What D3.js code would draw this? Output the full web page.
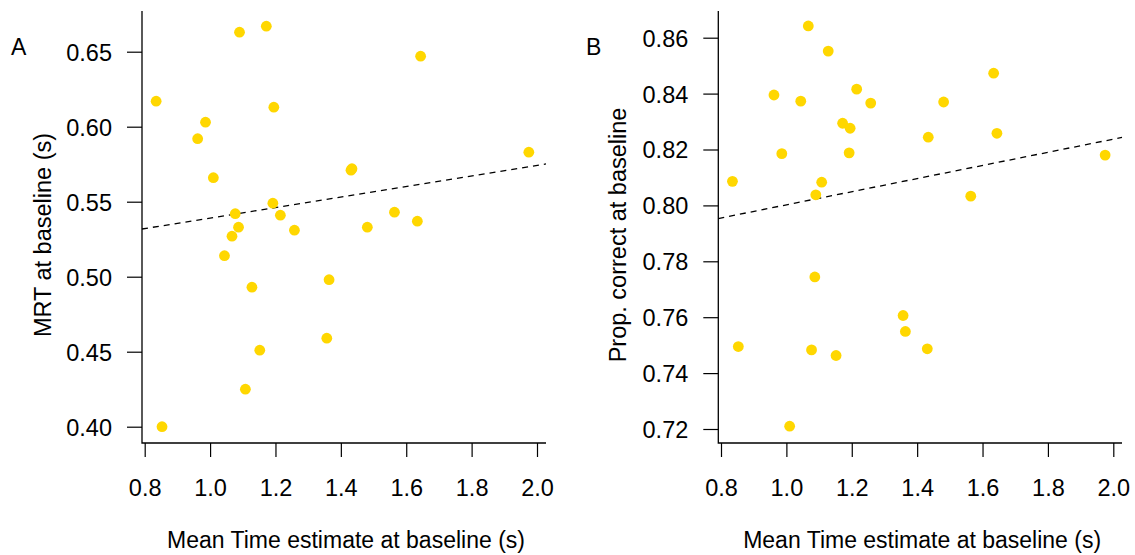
<!DOCTYPE html>
<html>
<head>
<meta charset="utf-8">
<script src="https://cdn.jsdelivr.net/npm/d3@7"></script>
<style>
  body { margin: 0; background: #fff; }
  svg { display: block; font-family: "Liberation Sans", Arial, Helvetica, sans-serif; }
  .tick text { font-size: 23.5px; fill: #000; }
  .tick line { stroke: #000; stroke-width: 1.2; }
</style>
</head>
<body>
<svg width="1135" height="555"></svg>
<script>
// mean time estimate at baseline (s), one per participant
const timeEstimate = [0.835, 0.853, 0.962, 0.986, 1.010, 1.044, 1.067, 1.077, 1.087, 1.090,
  1.108, 1.128, 1.152, 1.172, 1.192, 1.195, 1.215, 1.258, 1.357, 1.364,
  1.431, 1.434, 1.481, 1.564, 1.634, 1.644, 1.975];

// panel A: MRT at baseline (s)
const mrt = [0.617, 0.400, 0.592, 0.603, 0.566, 0.514, 0.527, 0.542, 0.533, 0.663,
  0.425, 0.493, 0.451, 0.667, 0.549, 0.613, 0.541, 0.531, 0.459, 0.498,
  0.571, 0.572, 0.533, 0.543, 0.537, 0.647, 0.583];

// panel B: proportion correct at baseline
const propCorrect = [0.8086, 0.7495, 0.8395, 0.8185, 0.7210, 0.8373, 0.8642, 0.7483, 0.7744, 0.8038,
  0.8083, 0.8552, 0.7463, 0.8294, 0.8188, 0.8276, 0.8416, 0.8366, 0.7606, 0.7549,
  0.7487, 0.8244, 0.8370, 0.8033, 0.8473, 0.8258, 0.8180];

const xTicks = [0.8, 1.0, 1.2, 1.4, 1.6, 1.8, 2.0];
const mrtTicks = [0.40, 0.45, 0.50, 0.55, 0.60, 0.65];
const propTicks = [0.72, 0.74, 0.76, 0.78, 0.80, 0.82, 0.84, 0.86];

// fitted lines [intercept, slope]
const fitMrt = [0.504, 0.0351];
const fitProp = [0.7767, 0.0235];

const svg = d3.select('svg');

const panels = [
  { label: 'A', ys: mrt, ticks: mrtTicks, fit: fitMrt,
    yTitle: 'MRT at baseline (s)',
    box: { left: 142, right: 546, top: 11, bottom: 443 },
    xRange: [144.7, 537], yDomain: [0.40, 0.65], yRange: [426.7, 51.7],
    labelX: 11, titleX: 51 },
  { label: 'B', ys: propCorrect, ticks: propTicks, fit: fitProp,
    yTitle: 'Prop. correct at baseline',
    box: { left: 718.3, right: 1122, top: 11, bottom: 443 },
    xRange: [721, 1113.3], yDomain: [0.72, 0.86], yRange: [429, 37.7],
    labelX: 586, titleX: 626 }
];

panels.forEach(p => {
  const x = d3.scaleLinear().domain([0.8, 2.0]).range(p.xRange);
  const y = d3.scaleLinear().domain(p.yDomain).range(p.yRange);
  const g = svg.append('g');

  // L-shaped box
  g.append('path')
    .attr('d', `M${p.box.left},${p.box.top}V${p.box.bottom}H${p.box.right}`)
    .attr('fill', 'none')
    .attr('stroke', '#000')
    .attr('stroke-width', 1.3);

  const xAxis = g.append('g')
    .attr('transform', `translate(0,${p.box.bottom})`)
    .call(d3.axisBottom(x).tickValues(xTicks).tickFormat(d3.format('.1f')).tickSize(14));
  xAxis.select('.domain').remove();
  xAxis.selectAll('text').attr('y', 53).attr('dy', 0);

  const yAxis = g.append('g')
    .attr('transform', `translate(${p.box.left},0)`)
    .call(d3.axisLeft(y).tickValues(p.ticks).tickFormat(d3.format('.2f')).tickSize(15));
  yAxis.select('.domain').remove();
  yAxis.selectAll('text').attr('x', -30).attr('dy', '0.36em');

  // dashed fit line across the plotting box
  const x0 = x.invert(p.box.left), x1 = x.invert(p.box.right);
  g.append('line')
    .attr('x1', x(x0)).attr('y1', y(p.fit[0] + p.fit[1] * x0))
    .attr('x2', x(x1)).attr('y2', y(p.fit[0] + p.fit[1] * x1))
    .attr('stroke', '#000')
    .attr('stroke-width', 1.3)
    .attr('stroke-dasharray', '6,5');

  g.selectAll('circle').data(timeEstimate)
    .enter().append('circle')
      .attr('cx', d => x(d))
      .attr('cy', (d, i) => y(p.ys[i]))
      .attr('r', 5.4)
      .attr('fill', '#FFD700');

  g.append('text')
    .attr('x', (p.box.left + p.box.right) / 2 + 2)
    .attr('y', 548)
    .attr('text-anchor', 'middle')
    .attr('font-size', 23)
    .text('Mean Time estimate at baseline (s)');

  g.append('text')
    .attr('transform', `translate(${p.titleX},${(p.box.top + p.box.bottom) / 2 + 8}) rotate(-90)`)
    .attr('text-anchor', 'middle')
    .attr('font-size', 23.5)
    .text(p.yTitle);

  g.append('text')
    .attr('x', p.labelX)
    .attr('y', 55)
    .attr('font-size', 23)
    .text(p.label);
});
</script>
</body>
</html>
